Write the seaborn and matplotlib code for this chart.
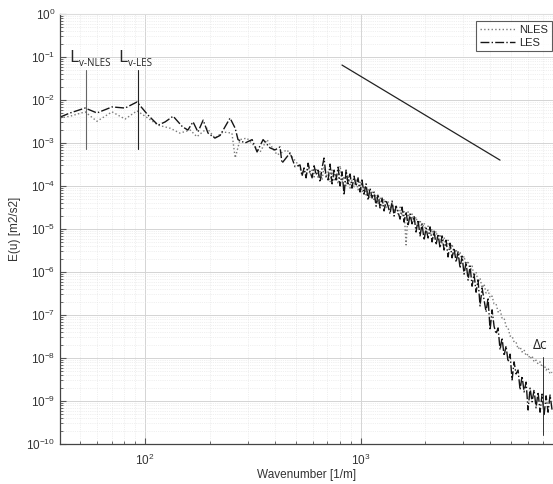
import numpy as np
import pandas as pd
import matplotlib
matplotlib.use("Agg")
import matplotlib.pyplot as plt
import seaborn as sns
from matplotlib.ticker import LogLocator, NullFormatter, FixedLocator

# low wavenumber part, read separately for each run
k_les_low = [40.3, 44.9, 52.7, 59.8, 70.3, 80.8, 91.8, 103, 115, 124, 135, 149, 158, 167,
             176, 186, 196, 211, 223, 248, 262, 270, 291, 314, 331, 353, 380, 401, 423,
             432, 471, 497]
E_les_low = [4.0e-3, 5.0e-3, 6.5e-3, 5.0e-3, 6.9e-3, 6.5e-3, 9.0e-3, 4.5e-3, 2.6e-3, 3.1e-3,
             4.2e-3, 2.4e-3, 2.0e-3, 3.1e-3, 1.8e-3, 3.4e-3, 1.7e-3, 1.3e-3, 1.5e-3, 3.8e-3,
             2.2e-3, 1.2e-3, 1.0e-3, 1.2e-3, 6.2e-4, 1.2e-3, 7.7e-4, 6.9e-4, 8.1e-4, 3.4e-4,
             5.9e-4, 2.8e-4]

k_nles_low = [40.3, 44.9, 52.7, 59.8, 70.3, 80.8, 91.8, 103, 115, 131, 145, 162, 174, 194,
              211, 230, 253, 262, 276, 297, 342, 368, 410, 456, 507]
E_nles_low = [3.8e-3, 4.2e-3, 5.3e-3, 3.2e-3, 5.3e-3, 3.6e-3, 5.6e-3, 3.8e-3, 2.6e-3, 2.2e-3,
              1.7e-3, 2.0e-3, 1.4e-3, 2.2e-3, 1.3e-3, 1.8e-3, 1.7e-3, 4.5e-4, 1.2e-3, 1.3e-3,
              6.2e-4, 1.2e-3, 5.3e-4, 6.9e-4, 3.4e-4]

# noisy high wavenumber band, same wavenumbers for both runs (exponents of E)
k_band = [524, 535, 547, 559, 571, 583, 596, 609, 622, 635, 649, 663, 677, 692, 707, 722,
          738, 754, 770, 787, 804, 821, 839, 857, 875, 894, 913, 933, 953, 974, 995, 1016,
          1038, 1061, 1084, 1107, 1131, 1156, 1181, 1206, 1232, 1259, 1286, 1314, 1342, 1371,
          1401, 1431, 1462, 1493, 1526, 1559, 1592, 1627, 1662, 1698, 1734, 1772, 1810, 1849,
          1889, 1930, 1972, 2014, 2058, 2102, 2148, 2194, 2242, 2290, 2339, 2390, 2442, 2494,
          2548, 2603, 2660, 2717, 2776, 2836, 2897, 2960, 3023, 3089, 3156, 3224, 3293, 3364,
          3437, 3511, 3587, 3665, 3744, 3825, 3907, 3992, 4078, 4166, 4256, 4348, 4442, 4538,
          4636, 4736, 4839, 4943, 5050, 5159, 5270, 5384, 5501, 5619, 5741, 5865, 5992, 6121,
          6253, 6388, 6526, 6667, 6811, 6959, 7109, 7263, 7419, 7580, 7743]
logE_les_band = [-3.51, -3.77, -3.58, -3.81, -3.47, -3.67, -3.81, -3.53, -3.74, -3.63,
                 -3.91, -3.58, -3.35, -3.77, -3.86, -3.49, -3.95, -3.63, -3.86, -3.56,
                 -4.00, -3.67, -4.21, -3.63, -3.95, -3.72, -4.05, -3.77, -4.00, -3.81,
                 -4.14, -3.86, -4.19, -3.95, -4.33, -4.05, -4.28, -4.14, -4.47, -4.19,
                 -4.51, -4.28, -4.58, -4.33, -4.47, -4.65, -4.35, -4.70, -4.47, -4.60,
                 -4.77, -4.49, -4.84, -4.60, -4.93, -4.65, -4.88, -4.70, -5.07, -4.79,
                 -5.16, -4.88, -5.26, -4.98, -5.21, -4.95, -5.30, -5.05, -5.37, -5.12,
                 -5.44, -5.16, -5.49, -5.26, -5.65, -5.33, -5.67, -5.44, -5.77, -5.53,
                 -5.91, -5.63, -6.05, -5.77, -6.19, -5.86, -6.33, -6.05, -6.47, -6.19,
                 -6.79, -6.37, -6.65, -6.93, -6.60, -7.35, -6.88, -7.26, -7.44, -7.30,
                 -7.81, -7.53, -7.95, -7.72, -8.09, -7.91, -8.51, -8.09, -8.37, -8.28,
                 -8.74, -8.42, -8.79, -8.56, -9.21, -8.70, -9.02, -8.74, -9.16, -8.79,
                 -9.26, -8.84, -9.33, -8.88, -9.26, -8.86, -9.21]
logE_nles_band = [-3.58, -3.72, -3.63, -3.77, -3.53, -3.74, -3.63, -3.79, -3.58, -3.81,
                  -3.65, -3.86, -3.56, -3.81, -3.67, -3.91, -3.63, -3.86, -3.72, -3.95,
                  -3.53, -3.91, -3.77, -4.00, -3.74, -4.05, -3.86, -4.02, -3.86, -4.09,
                  -3.91, -4.14, -4.00, -4.21, -4.07, -4.28, -4.14, -4.35, -4.21, -4.42,
                  -4.26, -4.47, -4.30, -4.51, -4.35, -4.56, -4.40, -4.60, -4.44, -4.65,
                  -4.49, -4.67, -4.56, -5.37, -4.60, -4.79, -4.65, -4.86, -4.72, -4.93,
                  -4.79, -5.00, -4.86, -5.07, -4.93, -5.14, -5.00, -5.19, -5.05, -5.26,
                  -5.12, -5.33, -5.19, -5.40, -5.26, -5.49, -5.35, -5.58, -5.47, -5.67,
                  -5.53, -5.77, -5.63, -5.86, -5.74, -5.98, -5.86, -6.09, -6.00, -6.23,
                  -6.14, -6.37, -6.28, -6.49, -6.42, -6.60, -6.56, -6.74, -6.74, -6.93,
                  -6.88, -7.07, -7.07, -7.26, -7.30, -7.49, -7.49, -7.63, -7.63, -7.79,
                  -7.74, -7.86, -7.81, -7.95, -7.91, -8.02, -7.95, -8.09, -8.05, -8.14,
                  -8.09, -8.21, -8.16, -8.28, -8.23, -8.37, -8.33]

# -3 slope reference line
k_slope = [820, 4440]
E_slope = [0.065, 4.0e-4]

# marker lines
k_lv_nles = 53.1
k_lv_les = 92.3
E_lv = [0.050, 7.2e-4]
k_dc = 7030
E_dc = [1.05e-8, 1.6e-10]

x_ticks = [100, 1000]
y_ticks = [1e-10, 1e-9, 1e-8, 1e-7, 1e-6, 1e-5, 1e-4, 1e-3, 1e-2, 1e-1, 1]

les = pd.DataFrame({"k": k_les_low + k_band,
                    "E": E_les_low + list(10.0 ** np.array(logE_les_band))})
nles = pd.DataFrame({"k": k_nles_low + k_band,
                     "E": E_nles_low + list(10.0 ** np.array(logE_nles_band))})

sns.set_style("white")
plt.rcParams['font.family'] = ['Liberation Sans', 'DejaVu Sans']

fig = plt.figure(figsize=(5.53, 4.84), dpi=100)
ax = fig.add_axes([60 / 553, 40 / 484, 493 / 553, 430 / 484])
ax.set_xscale("log")
ax.set_yscale("log")

sns.lineplot(data=nles, x="k", y="E", ax=ax, estimator=None, sort=False,
             color="#7a7a7a", linestyle=":", linewidth=1.0, label="NLES")
sns.lineplot(data=les, x="k", y="E", ax=ax, estimator=None, sort=False,
             color="#151515", linestyle="-.", linewidth=1.0, label="LES")

ax.plot(k_slope, E_slope, color="#222222", lw=0.9)
ax.plot([k_lv_nles, k_lv_nles], E_lv, color="#666666", lw=0.8)
ax.plot([k_lv_les, k_lv_les], E_lv, color="#222222", lw=0.8)
ax.plot([k_dc, k_dc], E_dc, color="#333333", lw=0.7)

ax.set_xlim(40.3, 7820)
ax.set_ylim(1e-10, 1)

ax.xaxis.set_major_locator(FixedLocator(x_ticks))
ax.yaxis.set_major_locator(FixedLocator(y_ticks))
ax.yaxis.set_minor_locator(LogLocator(base=10, subs=np.arange(2, 10), numticks=200))
ax.xaxis.set_minor_locator(LogLocator(base=10, subs=np.arange(2, 10), numticks=200))
ax.xaxis.set_minor_formatter(NullFormatter())
ax.yaxis.set_minor_formatter(NullFormatter())

ax.grid(which="major", color="#d4d4d4", lw=0.7)
ax.grid(which="minor", color="#e2e2e2", lw=0.5, ls=":")
ax.tick_params(which="both", direction="in", color="#555555", labelsize=8.5,
               labelcolor="#333333", bottom=True, left=True)
ax.tick_params(axis="x", which="major", pad=6)
ax.tick_params(which="major", length=4)
ax.tick_params(which="minor", length=2)
for s in ["left", "bottom"]:
    ax.spines[s].set_color("#444444")
    ax.spines[s].set_linewidth(0.9)
ax.spines["top"].set_color("#dddddd")
ax.spines["right"].set_visible(False)

ax.set_xlabel("Wavenumber [1/m]", fontsize=8.5, color="#333333", labelpad=1)
ax.set_ylabel("E(u) [m2/s2]", fontsize=8.5, color="#333333")

# annotations
for kx, sub in [(44.4, "v-NLES"), (74.9, "v-LES")]:
    ax.text(kx, 0.0765, "L", fontsize=12.5, family="Open Sans", va="baseline")
    ax.annotate(sub, xy=(kx, 0.0765), xytext=(7, -3), textcoords="offset points",
                fontsize=7, family="Open Sans", va="baseline")
ax.text(6310, 1.62e-8, "Δc", fontsize=10, family="Open Sans", va="baseline")

leg = ax.legend(loc="upper right", bbox_to_anchor=(0.997, 0.984), borderaxespad=0,
                fontsize=8, frameon=True, fancybox=False, handlelength=3.2,
                handletextpad=0.3, labelspacing=0.25, borderpad=0.35)
leg.get_frame().set_edgecolor("#333333")
leg.get_frame().set_linewidth(0.8)

fig.savefig("out.png", dpi=100)
